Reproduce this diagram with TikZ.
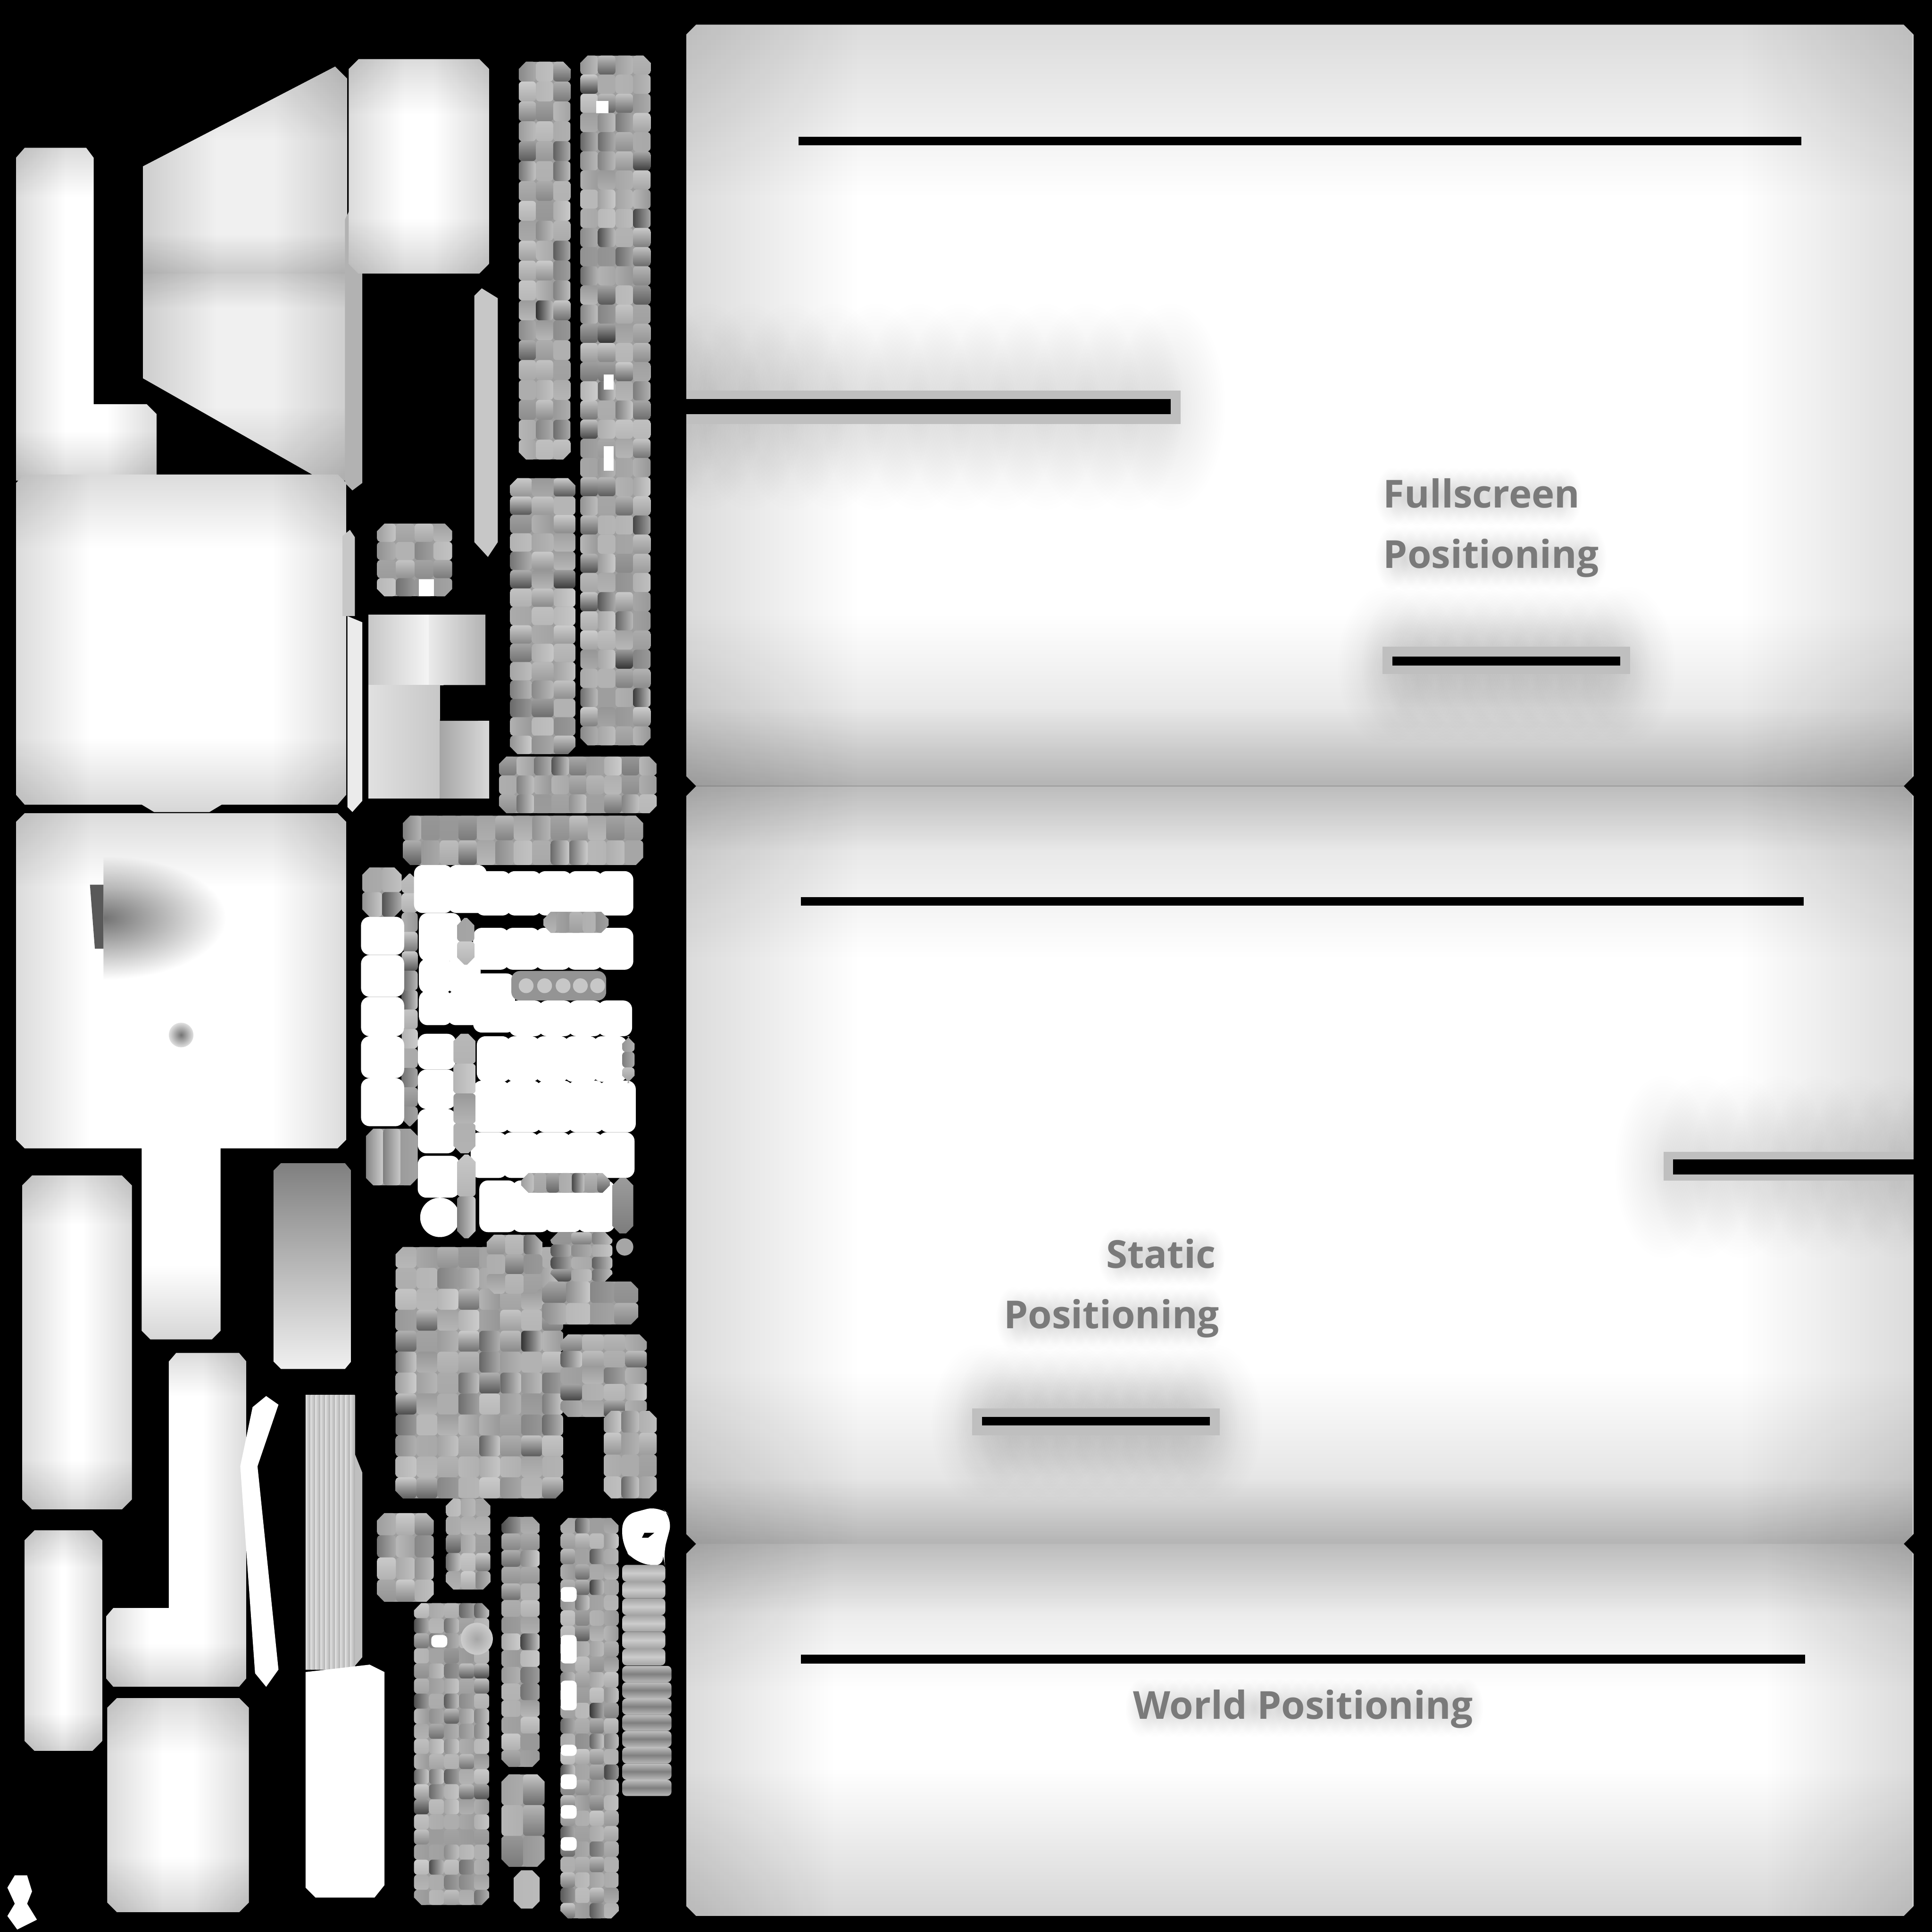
\documentclass[tikz,border=0pt]{standalone}
\usepackage{fontspec}
\setmainfont{Open Sans}
\usetikzlibrary{fadings}
\tikzfading[name=fadeTop, top color=transparent!86, bottom color=transparent!100]
\tikzfading[name=fadeBottom, bottom color=transparent!84, top color=transparent!100]
\tikzfading[name=fadeLeft, left color=transparent!86, right color=transparent!100]
\tikzfading[name=fadeRight, right color=transparent!86, left color=transparent!100]
\tikzfading[name=fadeGlow, inner color=transparent!90, outer color=transparent!100]
\tikzfading[name=fadeDeep, inner color=transparent!45, outer color=transparent!100]
\tikzset{
  slot/.style={fill=black},
  bevel/.style={fill=black!25},
  patch/.style={fill=black!38},
  blob/.style={fill=white, rounded corners=2pt},
  coreText/.style={text=black!52, anchor=base west, inner sep=0pt, font=\fontsize{8.9}{10}\selectfont\bfseries}
}
% clip path, bounding box, edge band
\newcommand{\aoshape}[6]{
  \begin{scope}
    \clip #1;
    \fill[white] (#2,#3) rectangle (#4,#5);
    \fill[black, path fading=fadeTop] (#2,#3) rectangle (#4,{#3+#6});
    \fill[black, path fading=fadeBottom] (#2,{#5-#6}) rectangle (#4,#5);
    \fill[black, path fading=fadeLeft] (#2,#3) rectangle ({#2+#6},#5);
    \fill[black, path fading=fadeRight] ({#4-#6},#3) rectangle (#4,#5);
  \end{scope}
}
\newcommand{\aopanel}[5]{
  \aoshape{({#1+8},#2) -- ({#3-8},#2) -- (#3,{#2+8}) -- (#3,{#4-8}) -- ({#3-8},#4) -- ({#1+8},#4) -- (#1,{#4-8}) -- (#1,{#2+8}) -- cycle}{#1}{#2}{#3}{#4}{#5}
}
% soft shadow along a bar
\newcommand{\softbar}[6]{
  \foreach \t in {0,...,#6}{
    \pgfmathsetmacro\cx{#1+\t/#6*(#2-#1)}
    \fill[black, path fading=fadeGlow] ({\cx-#4},{#3-#5}) rectangle ({\cx+#4},{#3+#5});
  }
}
% random patchwork of shaded cells
\newcommand{\cellgrid}[7]{
  \begin{scope}
    \clip ({#1+6},#2) -- ({#3-6},#2) -- (#3,{#2+6}) -- (#3,{#4-6}) -- ({#3-6},#4) -- ({#1+6},#4) -- (#1,{#4-6}) -- (#1,{#2+6}) -- cycle;
    \fill[patch] ({#1+2},#2) rectangle ({#3-2},#4);
    \pgfmathsetseed{#7}
    \foreach \i in {1,...,#5}{
      \foreach \j in {1,...,#6}{
        \pgfmathsetmacro\gaOne{int(20+rnd*22)}
        \pgfmathsetmacro\gaTwo{int(28+rnd*rnd*55)}
        \pgfmathsetmacro\xa{#1+(\i-1)/#5*(#3-#1)}
        \pgfmathsetmacro\xb{#1+\i/#5*(#3-#1)}
        \pgfmathsetmacro\ya{#2+(\j-1)/#6*(#4-#2)}
        \pgfmathsetmacro\yb{#2+\j/#6*(#4-#2)}
        \pgfmathparse{rnd<0.5 ? 1 : 0}
        \ifnum\pgfmathresult=1
          \shade[rounded corners=0.8pt, top color=black!\gaOne, bottom color=black!\gaTwo] (\xa,\ya) rectangle (\xb,\yb);
        \else
          \shade[rounded corners=0.8pt, left color=black!\gaTwo, right color=black!\gaOne] (\xa,\ya) rectangle (\xb,\yb);
        \fi
      }
    }
  \end{scope}
}
% row of white lumps
\newcommand{\whiterow}[5]{
  \foreach \t in {1,...,#5}{
    \pgfmathsetmacro\xa{#1+(\t-1)/#5*(#2-#1)-2}
    \pgfmathsetmacro\xb{#1+\t/#5*(#2-#1)+2}
    \fill[blob] (\xa,#3) rectangle (\xb,#4);
  }
}
\begin{document}
\begin{tikzpicture}[x=0.1mm,y=-0.1mm]
  \fill[black] (0,0) rectangle (1568,1568);
  \useasboundingbox (0,0) rectangle (1568,1568);

  % big panels
  \aopanel{557}{20}{1553}{638}{140}
  \fill[black, path fading=fadeBottom] (557,575) rectangle (1553,638);
  \softbar{540}{950}{330}{45}{85}{12}
  \softbar{1125}{1320}{540}{40}{65}{10}
  \softbar{1130}{1270}{403}{14}{24}{14}
  \softbar{1130}{1290}{453}{14}{26}{16}
  \fill[bevel] (557,317) -- (958,317) -- (958,344) -- (557,344) -- cycle;
  \fill[slot] (557,324) rectangle (950,336);
  \fill[slot] (648,111) rectangle (1462,118);
  \fill[bevel] (1122,525) rectangle (1323,547);
  \fill[slot] (1130,533) rectangle (1315,540);

  \aopanel{557}{638}{1553}{1253}{140}
  \fill[black, path fading=fadeTop] (557,638) rectangle (1553,690);
  \fill[black, path fading=fadeBottom] (557,1200) rectangle (1553,1253);
  \softbar{1350}{1570}{947}{40}{75}{7}
  \softbar{795}{985}{1155}{40}{65}{10}
  \softbar{905}{980}{1020}{14}{24}{8}
  \softbar{822}{980}{1070}{14}{26}{16}
  \fill[bevel] (1350,935) rectangle (1553,958);
  \fill[slot] (1358,941) rectangle (1553,953);
  \fill[slot] (650,728) rectangle (1464,735);
  \fill[bevel] (789,1143) rectangle (990,1165);
  \fill[slot] (797,1150) rectangle (982,1157);

  \aopanel{557}{1253}{1553}{1555}{120}
  \fill[black, path fading=fadeTop] (557,1253) rectangle (1553,1310);
  \softbar{927}{1190}{1386}{14}{24}{26}
  \fill[slot] (650,1343) rectangle (1465,1350);

  % blurred text
  \node[coreText] (txtFull) at (1122,412) {Fullscreen};
  \node[coreText] (txtPosA) at (1122,461) {Positioning};
  \node[coreText] (txtStatic) at (897,1029) {Static};
  \node[coreText] (txtPosB) at (814,1078) {Positioning};
  \node[coreText] (txtWorld) at (919,1395) {World Positioning};

  % left column shapes
  \aoshape{(20,120) -- (70,120) -- (76,128) -- (76,328) -- (119,328) -- (127,336) -- (127,390) -- (13,390) -- (13,128) -- cycle}{13}{120}{127}{390}{40}
  \aoshape{(116,135) -- (272,54) -- (282,64) -- (282,390) -- (262,390) -- (116,307) -- cycle}{116}{54}{282}{390}{60}
  \fill[black, opacity=0.06] (116,135) -- (272,54) -- (282,64) -- (282,390) -- (262,390) -- (116,307) -- cycle;
  \fill[black, path fading=fadeBottom] (116,190) rectangle (282,222);
  \fill[black, path fading=fadeTop] (116,222) rectangle (282,250);
  \fill[black!30] (280,178) -- (284,170) -- (288,178) -- (294,220) -- (294,392) -- (286,398) -- (280,392) -- cycle;
  \aopanel{283}{48}{397}{222}{45}
  \fill[black!22] (385,240) -- (391,234) -- (404,242) -- (404,440) -- (396,452) -- (385,440) -- cycle;

  \aoshape{(20,385) -- (274,385) -- (281,392) -- (281,645) -- (274,653) -- (180,653) -- (170,659) -- (125,659) -- (115,653) -- (20,653) -- (13,645) -- (13,392) -- cycle}{13}{385}{281}{659}{60}
  \fill[black!22] (278,435) -- (284,430) -- (288,436) -- (288,500) -- (278,500) -- cycle;
  \fill[black!8] (282,500) -- (294,505) -- (294,650) -- (286,659) -- (282,655) -- cycle;

  \aoshape{(20,660) -- (274,660) -- (281,667) -- (281,925) -- (274,932) -- (179,932) -- (179,1080) -- (172,1087) -- (122,1087) -- (115,1080) -- (115,932) -- (20,932) -- (13,925) -- (13,667) -- cycle}{13}{660}{281}{1087}{60}
  \begin{scope}
    \clip (84,690) rectangle (190,800);
    \fill[black, path fading=fadeDeep] (-15,695) rectangle (183,795);
  \end{scope}
  \fill[black!65] (73,718) -- (84,718) -- (84,770) -- (77,770) -- cycle;
  \shade[inner color=black!55, outer color=black!12] (147,840) circle (10);

  \aopanel{18}{954}{107}{1225}{40}
  \begin{scope}
    \clip (228,944) -- (280,944) -- (285,950) -- (285,1105) -- (280,1111) -- (228,1111) -- (222,1105) -- (222,950) -- cycle;
    \shade[top color=black!50, bottom color=black!6] (222,944) rectangle (285,1111);
  \end{scope}
  \aoshape{(143,1098) -- (194,1098) -- (200,1105) -- (200,1362) -- (194,1369) -- (92,1369) -- (86,1362) -- (86,1312) -- (92,1305) -- (137,1305) -- (137,1105) -- cycle}{86}{1098}{200}{1369}{35}
  \fill[white] (205,1142) -- (216,1133) -- (226,1140) -- (209,1190) -- (226,1355) -- (216,1369) -- (207,1358) -- (195,1190) -- cycle;
  \aopanel{20}{1242}{83}{1421}{30}
  \aopanel{87}{1378}{202}{1552}{45}

  % striped strip
  \foreach \i in {0,...,9}{
    \shade[left color=black!12, right color=black!32] ({248+\i*4},1132) rectangle ({252+\i*4},1355);
  }
  \fill[black!25] (288,1180) -- (294,1195) -- (294,1345) -- (288,1352) -- cycle;
  \fill[white] (248,1357) -- (300,1351) -- (312,1357) -- (312,1530) -- (304,1540) -- (256,1540) -- (248,1532) -- cycle;
  \fill[white] (12,1522) -- (22,1522) -- (26,1535) -- (22,1545) -- (30,1558) -- (14,1566) -- (6,1555) -- (12,1545) -- (6,1532) -- cycle;

  % patch strips upper
  \cellgrid{421}{50}{463}{373}{3}{20}{11}
  \cellgrid{471}{45}{528}{605}{4}{36}{12}
  \fill[white] (484,82) rectangle (494,92);
  \fill[white] (490,304) rectangle (498,316);
  \fill[white] (490,362) rectangle (498,382);
  \cellgrid{414}{388}{467}{612}{3}{15}{13}
  \cellgrid{405}{614}{533}{660}{9}{3}{14}
  \cellgrid{327}{662}{522}{702}{13}{2}{15}

  % small atlas pieces
  \cellgrid{306}{425}{367}{484}{4}{4}{16}
  \fill[white] (340,470) rectangle (352,484);
  \shade[left color=black!22, right color=black!4] (299,499) rectangle (348,556);
  \shade[left color=black!8, right color=black!30] (348,499) rectangle (394,556);
  \shade[left color=black!12, right color=black!22] (299,556) rectangle (357,648);
  \shade[left color=black!35, right color=black!15] (357,585) rectangle (397,648);
  \fill[black] (360,556) -- (394,556) -- (394,575) -- (388,585) -- (357,585) -- cycle;

  % white clusters with gray pieces
  \cellgrid{294}{704}{326}{744}{2}{2}{21}
  \cellgrid{326}{709}{339}{914}{1}{13}{22}
  \foreach \ya/\yb in {744/775,775/809,809/841,841/875,875/914}{
    \whiterow{295}{326}{\ya}{\yb}{1}
  }
  \whiterow{338}{393}{702}{741}{2}
  \whiterow{342}{372}{741}{780}{1}
  \whiterow{342}{388}{778}{806}{2}
  \whiterow{342}{388}{804}{832}{2}
  \whiterow{341}{368}{839}{868}{1}
  \whiterow{341}{368}{868}{900}{1}
  \whiterow{341}{368}{900}{936}{1}
  \whiterow{341}{371}{938}{972}{1}
  \fill[white] (357,988) ellipse (16 and 16);
  \whiterow{388}{512}{707}{743}{5}
  \whiterow{386}{512}{753}{787}{5}
  \whiterow{386}{416}{790}{838}{1}
  \whiterow{415}{511}{812}{841}{4}
  \whiterow{389}{507}{841}{878}{5}
  \whiterow{386}{514}{877}{919}{5}
  \whiterow{384}{513}{919}{956}{5}
  \whiterow{391}{497}{958}{1000}{4}
  \cellgrid{297}{916}{339}{962}{3}{1}{23}
  \cellgrid{371}{745}{385}{783}{1}{2}{24}
  \cellgrid{368}{839}{386}{936}{1}{4}{25}
  \cellgrid{371}{937}{386}{1005}{1}{2}{26}
  \cellgrid{441}{740}{494}{757}{5}{1}{27}
  \fill[black!42, rounded corners=2pt] (415,788) rectangle (492,812);
  \foreach \x in {427,442,457,471,485}{
    \fill[black!22] (\x,800) circle (6);
  }
  \cellgrid{505}{841}{515}{879}{1}{3}{28}
  \cellgrid{423}{952}{495}{968}{7}{1}{29}
  \cellgrid{497}{956}{514}{1001}{1}{1}{30}

  % patch strips lower
  \cellgrid{321}{1012}{457}{1216}{8}{12}{31}
  \cellgrid{395}{1002}{440}{1050}{3}{3}{32}
  \cellgrid{447}{1000}{497}{1040}{3}{4}{33}
  \cellgrid{440}{1040}{518}{1075}{4}{2}{34}
  \cellgrid{455}{1083}{525}{1150}{4}{5}{35}
  \cellgrid{490}{1145}{533}{1216}{3}{4}{36}
  \fill[black!35] (507,1012) circle (7);
  \cellgrid{306}{1228}{352}{1300}{3}{4}{41}
  \cellgrid{362}{1216}{398}{1290}{3}{5}{42}
  \cellgrid{407}{1231}{438}{1434}{2}{15}{43}
  \cellgrid{407}{1440}{442}{1515}{2}{3}{44}
  \cellgrid{417}{1518}{438}{1549}{1}{1}{45}
  \cellgrid{336}{1301}{397}{1546}{5}{20}{46}
  \shade[inner color=black!35, outer color=black!20] (387,1330) circle (13);
  \fill[white, rounded corners=1pt] (350,1327) rectangle (363,1337);
  \cellgrid{455}{1232}{502}{1557}{4}{26}{47}
  \foreach \ya/\yb in {1288/1300,1327/1350,1364/1388,1416/1425,1440/1452,1465/1476,1491/1502}{
    \fill[white, rounded corners=1pt] (455,\ya) rectangle (468,\yb);
  }
  \fill[white, rounded corners=3pt] (505,1230) -- (535,1222) -- (546,1232) -- (538,1262) -- (540,1272) -- (515,1268) -- (505,1255) -- cycle;
  \fill[black] (523,1244) -- (531,1244) -- (526,1248) -- (521,1248) -- cycle;
  \foreach \i in {0,...,5}{
    \shade[top color=black!36, bottom color=black!36, middle color=black!20, rounded corners=1pt] (505,{1270+\i*13.6}) rectangle (540,{1283.6+\i*13.6});
  }
  \foreach \i in {0,...,7}{
    \shade[top color=black!25, bottom color=black!28, middle color=black!50, rounded corners=1pt] (505,{1352+\i*13.2}) rectangle (545,{1365.2+\i*13.2});
  }
\end{tikzpicture}
\end{document}
